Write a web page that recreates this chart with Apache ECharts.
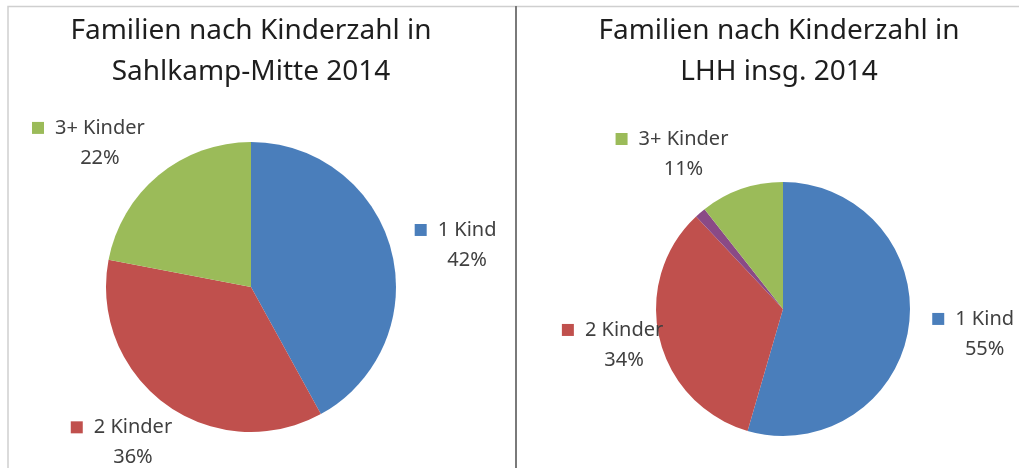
<!DOCTYPE html>
<html>
<head>
<meta charset="utf-8">
<script src="https://cdn.jsdelivr.net/npm/echarts@6/dist/echarts.min.js"></script>
<style>
  html, body { margin: 0; padding: 0; background: #fff; }
  #chart { width: 1019px; height: 468px; }
</style>
</head>
<body>
<div id="chart"></div>
<script>
// Anteile in Prozent, Reihenfolge im Uhrzeigersinn ab 12 Uhr
var sahlkampNames = ['1 Kind', '2 Kinder', '3+ Kinder'];
var sahlkampShares = [42, 36, 22];

var lhhNames = ['1 Kind', '2 Kinder', 'ohne Angabe', '3+ Kinder'];
var lhhShares = [54.5, 33.5, 1.4, 10.6];

var titles = [
    'Familien nach Kinderzahl in\nSahlkamp-Mitte 2014',
    'Familien nach Kinderzahl in\nLHH insg. 2014'
];

var colors = {
    '1 Kind': '#4a7ebb',
    '2 Kinder': '#c0504d',
    '3+ Kinder': '#9bbb59',
    'ohne Angabe': '#8a4a86'
};

var dom = document.getElementById('chart');
var myChart = echarts.init(dom, null, { renderer: 'canvas' });

var textColor = '#404040';

var rich = {
    k1: { width: 12, height: 12, backgroundColor: colors['1 Kind'] },
    k2: { width: 12, height: 12, backgroundColor: colors['2 Kinder'] },
    k3: { width: 12, height: 12, backgroundColor: colors['3+ Kinder'] },
    n: { fontSize: 20, lineHeight: 30, color: textColor, padding: [0, 0, 0, 11] },
    p: { fontSize: 20, lineHeight: 30, color: textColor, align: 'center', padding: [0, 0, 0, 23] }
};
var keyOf = { '1 Kind': 'k1', '2 Kinder': 'k2', '3+ Kinder': 'k3' };

function labelText(params) {
    return '{' + keyOf[params.name] + '|}{n|' + params.name + '}\n{p|' + Math.round(params.value) + '%}';
}

// Abstand der Beschriftung zum Kreis (nur Lage, keine Daten)
var leftLines = { '1 Kind': [24, -5], '2 Kinder': [47, -39], '3+ Kinder': [42, -18] };
var rightLines = { '1 Kind': [50, -31], '2 Kinder': [27, -35], '3+ Kinder': [37, -4] };

function buildData(names, values, lines) {
    return names.map(function (name, i) {
        var item = {
            name: name,
            value: values[i],
            itemStyle: { color: colors[name] }
        };
        if (lines[name]) {
            item.labelLine = { show: false, length: lines[name][0], length2: lines[name][1] };
        } else {
            item.label = { show: false };
        }
        return item;
    });
}

function pieSeries(center, radius, data) {
    return {
        type: 'pie',
        center: center,
        radius: radius,
        startAngle: 90,
        clockwise: true,
        avoidLabelOverlap: false,
        silent: true,
        itemStyle: { borderWidth: 0 },
        label: {
            show: true,
            position: 'outside',
            formatter: labelText,
            rich: rich,
            distanceToLabelLine: 5
        },
        labelLine: { show: false },
        data: data
    };
}

var option = {
    animation: false,
    backgroundColor: '#fff',
    textStyle: { fontFamily: 'Noto Sans' },
    title: [{
        text: titles[0],
        left: 251,
        top: 11,
        textAlign: 'center',
        padding: 0,
        textStyle: { fontFamily: 'Noto Sans', fontSize: 28, fontWeight: 'normal', lineHeight: 41, color: '#1e1e1e' }
    }, {
        text: titles[1],
        left: 779,
        top: 11,
        textAlign: 'center',
        padding: 0,
        textStyle: { fontFamily: 'Noto Sans', fontSize: 28, fontWeight: 'normal', lineHeight: 41, color: '#1e1e1e' }
    }],
    graphic: [{
        type: 'rect',
        silent: true,
        shape: { x: 8, y: 6.5, width: 1100, height: 600 },
        style: { fill: 'none', stroke: '#cfcfcf', lineWidth: 1.5 }
    }, {
        type: 'line',
        silent: true,
        shape: { x1: 516, y1: 6, x2: 516, y2: 468 },
        style: { stroke: '#7a7a7a', lineWidth: 2 }
    }],
    series: [
        pieSeries([251, 287], 145, buildData(sahlkampNames, sahlkampShares, leftLines)),
        pieSeries([783, 309], 127, buildData(lhhNames, lhhShares, rightLines))
    ]
};

if (option && typeof option === 'object') {
    myChart.setOption(option, true);
}
</script>
</body>
</html>
